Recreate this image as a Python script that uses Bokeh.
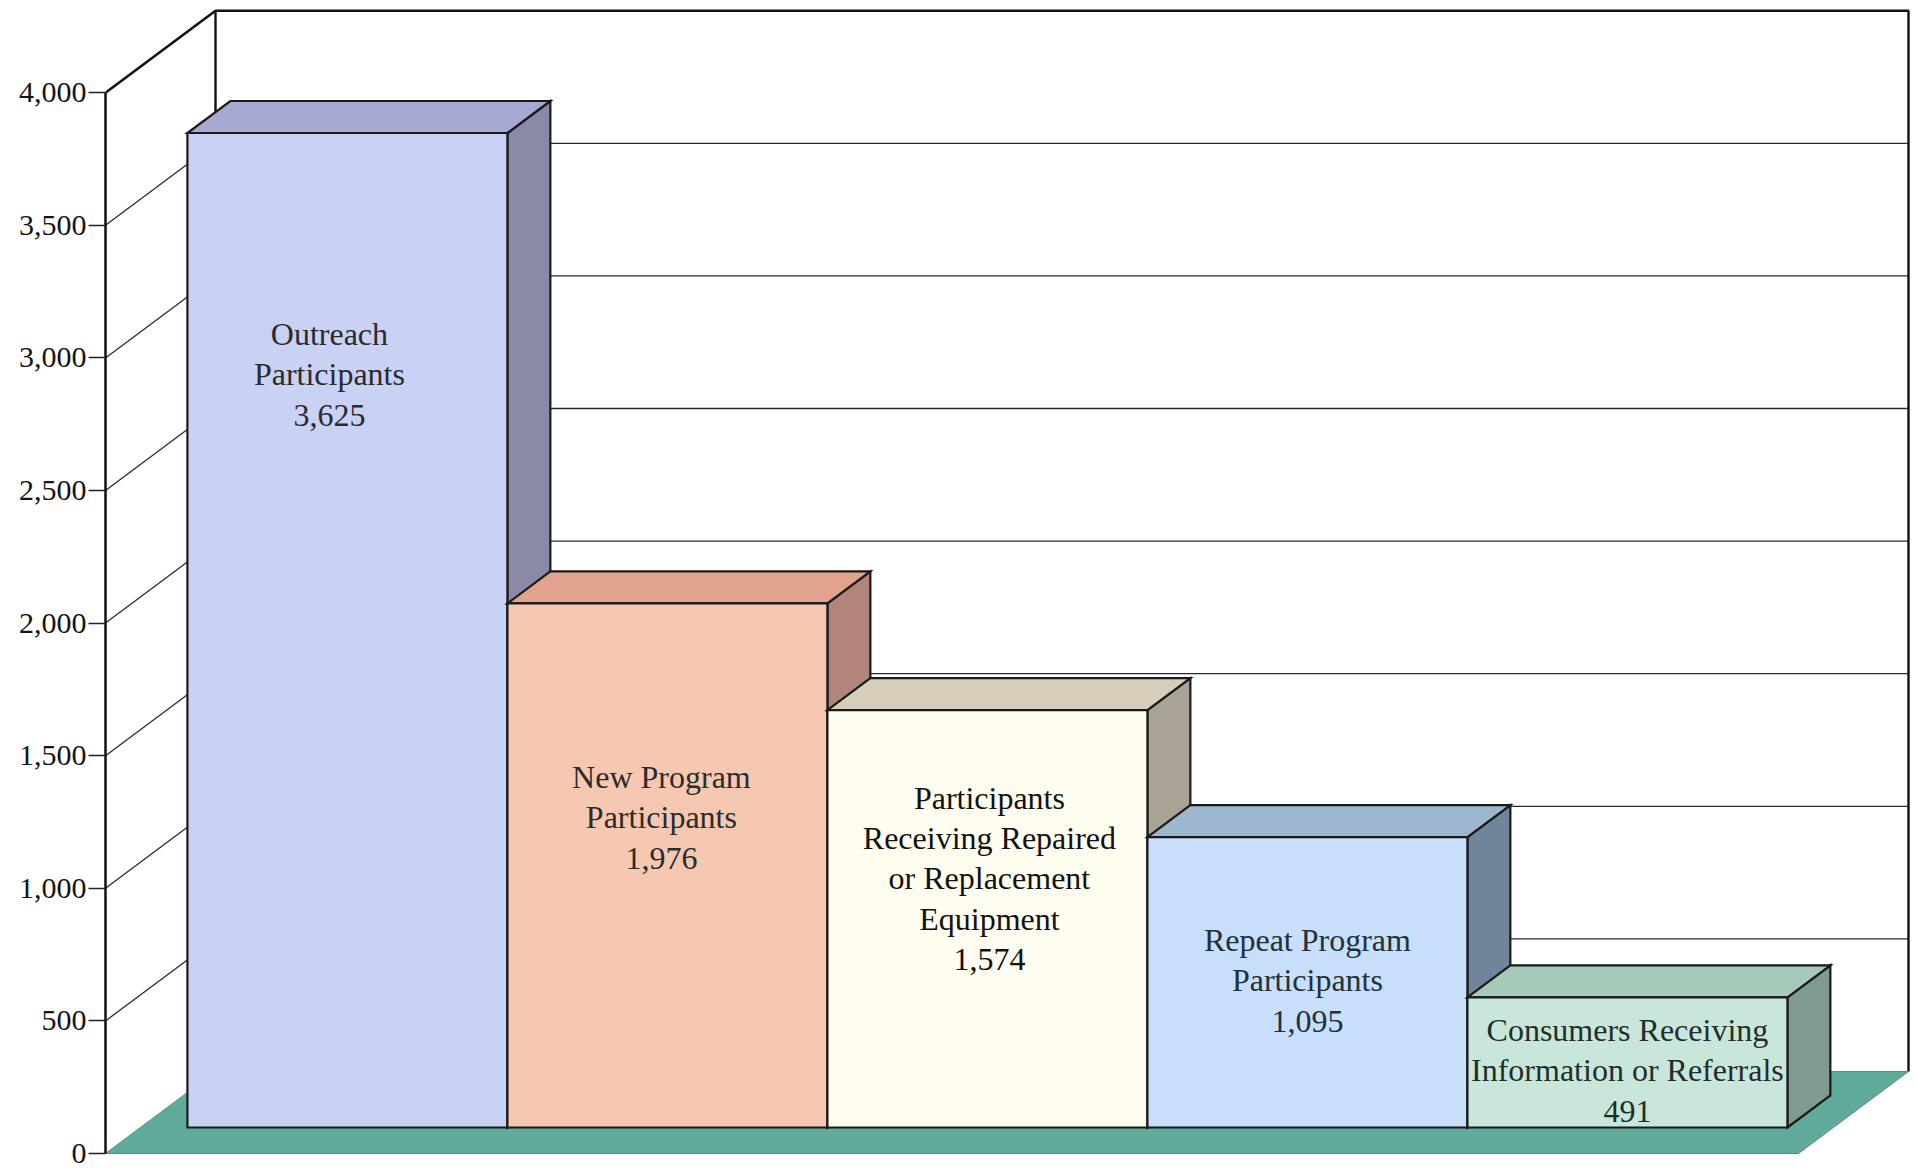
from bokeh.plotting import figure
from bokeh.models import Range1d, FixedTicker, NumeralTickFormatter
from bokeh.embed import file_html
from bokeh.resources import INLINE
from bokeh.core.properties import value

# ---------------- data ----------------
categories = [
    "Outreach\nParticipants",
    "New Program\nParticipants",
    "Participants\nReceiving Repaired\nor Replacement\nEquipment",
    "Repeat Program\nParticipants",
    "Consumers Receiving\nInformation or Referrals",
]
values = [3625, 1976, 1574, 1095, 491]          # printed values
bar_heights = [3750, 1976, 1574, 1095, 491]     # bar heights as drawn in the picture
y_ticks = [0, 500, 1000, 1500, 2000, 2500, 3000, 3500, 4000]

front_colors = ["#c9d1f5", "#f7c8b1", "#fffcf0", "#c7dffa", "#c9e6da"]
top_colors = ["#a8a9d2", "#e3a28d", "#d6cdbb", "#9db7cf", "#a7c9ba"]
side_colors = ["#8a89a7", "#b2857a", "#a9a396", "#70859a", "#7f9b91"]
text_colors = ["#2b2b2b", "#2b2b2b", "#111111", "#22303a", "#1f2e2a"]

# ---------------- layout (pixels) ----------------
W, H = 1918, 1169
axis_px = 105          # x pixel of the front value axis
base_px = 1153         # y pixel of value 0 on the front plane
px_x = 320.0           # pixels per category slot
px_v = 0.2652          # pixels per value unit
depth_dx, depth_dy = 110.0, 82.0   # full floor depth offset in pixels
kx = depth_dx / px_x
ky = depth_dy / px_v
wall_w = (1908 - axis_px - depth_dx) / px_x
bar_z0, bar_z1 = 26.0 / 82.0, 58.0 / 82.0
bar_x0 = 0.147
label_level = [2840, 1170, 940, 555, 215]
label_dx_px = [-18, -6, 2, 0, 0]


def proj(x, v, z):
    return x + z * kx, v + z * ky


p = figure(
    width=W, height=H,
    x_range=Range1d(0, (W - axis_px) / px_x),
    y_range=Range1d((base_px - H) / px_v, base_px / px_v),
    output_backend="svg", toolbar_location=None,
    min_border_left=axis_px, min_border_right=0,
    min_border_top=0, min_border_bottom=0,
    x_axis_location=None,
)
p.outline_line_color = None
p.xgrid.visible = False
p.ygrid.visible = False
p.background_fill_color = "white"
p.border_fill_color = "white"

ax = p.yaxis[0]
ax.ticker = FixedTicker(ticks=y_ticks)
ax.formatter = NumeralTickFormatter(format="0,0")
ax.bounds = (min(y_ticks), max(y_ticks))
ax.axis_line_width = 2.5
ax.axis_line_color = "#111111"
ax.major_tick_out = 17
ax.major_tick_in = 0
ax.major_tick_line_color = "#222222"
ax.major_tick_line_width = 1.5
ax.minor_tick_line_color = None
ax.major_label_standoff = 2
ax.major_label_text_font = "Liberation Serif"
ax.major_label_text_font_size = "30px"
ax.major_label_text_color = "#151515"

vmax = max(y_ticks)

# back wall gridlines
gx, gy = [], []
for t in y_ticks[1:-1]:
    a = proj(0, t, 1)
    b = proj(wall_w, t, 1)
    gx.append([a[0], b[0]])
    gy.append([a[1], b[1]])
p.multi_line(gx, gy, line_color="#2a2a2a", line_width=1.3)

# back wall outline (left, top, right)
wl = [proj(0, 0, 1), proj(0, vmax, 1), proj(wall_w, vmax, 1), proj(wall_w, 0, 1)]
p.line([q[0] for q in wl], [q[1] for q in wl], line_color="#111111", line_width=2.4)

# left-side diagonals
dx_, dy_ = [], []
for t in y_ticks[1:-1]:
    a = proj(0, t, 0)
    b = proj(0, t, 1)
    dx_.append([a[0], b[0]])
    dy_.append([a[1], b[1]])
p.multi_line(dx_, dy_, line_color="#2a2a2a", line_width=1.3)
a, b = proj(0, vmax, 0), proj(0, vmax, 1)
p.line([a[0], b[0]], [a[1], b[1]], line_color="#111111", line_width=2.5)

# floor
fl = [proj(0, 0, 0), proj(wall_w, 0, 0), proj(wall_w, 0, 1), proj(0, 0, 1)]
p.patch([q[0] for q in fl], [q[1] for q in fl], fill_color="#60aa9b",
        line_color="#4e9486", line_width=1)

# bars, left to right
for i, h in enumerate(bar_heights):
    x0 = bar_x0 + i
    x1 = x0 + 1
    side = [proj(x1, 0, bar_z0), proj(x1, 0, bar_z1), proj(x1, h, bar_z1), proj(x1, h, bar_z0)]
    top = [proj(x0, h, bar_z0), proj(x1, h, bar_z0), proj(x1, h, bar_z1), proj(x0, h, bar_z1)]
    front = [proj(x0, 0, bar_z0), proj(x1, 0, bar_z0), proj(x1, h, bar_z0), proj(x0, h, bar_z0)]
    for poly, col in ((side, side_colors[i]), (top, top_colors[i]), (front, front_colors[i])):
        p.patch([q[0] for q in poly], [q[1] for q in poly], fill_color=col,
                line_color="#1a1a1a", line_width=2.2, line_join="miter")

# labels
lx, ly, lt = [], [], []
for i, (cat, v) in enumerate(zip(categories, values)):
    cx, cy = proj(bar_x0 + i + 0.5, label_level[i], bar_z0)
    lx.append(cx + label_dx_px[i] / px_x)
    ly.append(cy)
    lt.append(cat + "\n" + f"{v:,}")
p.text(x=lx, y=ly, text=lt, text_font=value("Liberation Serif"),
       text_font_size="32px", text_align="center", text_baseline="middle",
       text_line_height=1.12, text_color=text_colors)

open("out.html", "w").write(file_html(p, INLINE))
